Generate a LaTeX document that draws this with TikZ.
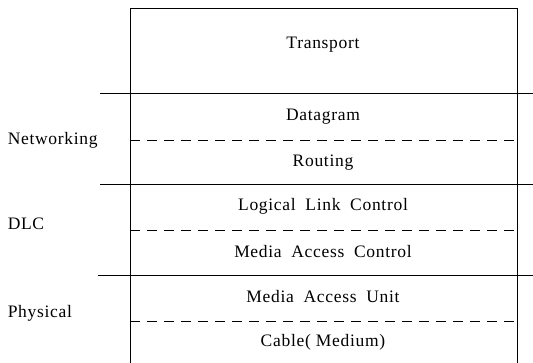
\documentclass[tikz,border=0pt]{standalone}
\usepackage{fontspec}
\setmainfont{Liberation Serif}[LetterSpace=4]
\usepackage{tikz}
\newcommand{\gap}{\hspace{0.55em}}
\begin{document}
\begin{tikzpicture}[x=1pt,y=-1pt, line width=0.9pt,
    layer/.style={font=\fontsize{17.5}{20}\selectfont},
    side/.style={font=\fontsize{17.5}{20}\selectfont, anchor=west},
    split/.style={dash pattern=on 10pt off 7pt}]
    \useasboundingbox (0,0) rectangle (533,363);
    % frame
    \coordinate (tl) at (130,8);
    \coordinate (tr) at (517,8);
    \coordinate (bl) at (130,363);
    \coordinate (br) at (517,363);
    \draw (bl) -- (tl) -- (tr) -- (br);
    % solid borders between groups
    \coordinate (a1) at (100,93);  \coordinate (a2) at (533,93);
    \coordinate (b1) at (100,184); \coordinate (b2) at (533,184);
    \coordinate (c1) at (98,275);  \coordinate (c2) at (533,275);
    \draw (a1) -- (a2);
    \draw (b1) -- (b2);
    \draw (c1) -- (c2);
    % dashed borders inside groups
    \coordinate (d1) at (130,140); \coordinate (d2) at (517,140);
    \coordinate (e1) at (130,230); \coordinate (e2) at (517,230);
    \coordinate (f1) at (130,321); \coordinate (f2) at (517,321);
    \draw[split] (d1) -- (d2);
    \draw[split] (e1) -- (e2);
    \draw[split] (f1) -- (f2);
    % layers
    \node[layer] (transport) at (323,45) {Transport};
    \node[layer] (datagram) at (323,117) {Datagram};
    \node[layer] (routing) at (323,163) {Routing};
    \node[layer] (llc) at (323,206) {Logical\gap Link\gap Control};
    \node[layer] (mac) at (323,252) {Media\gap Access\gap Control};
    \node[layer] (mau) at (323,297) {Media\gap Access\gap Unit};
    \node[layer] (cable) at (323,342) {Cable( Medium)};
    % groups
    \node[side] (net) at (4,140) {Networking};
    \node[side] (dlc) at (4,224) {DLC};
    \node[side] (phy) at (4,313) {Physical};
\end{tikzpicture}
\end{document}
